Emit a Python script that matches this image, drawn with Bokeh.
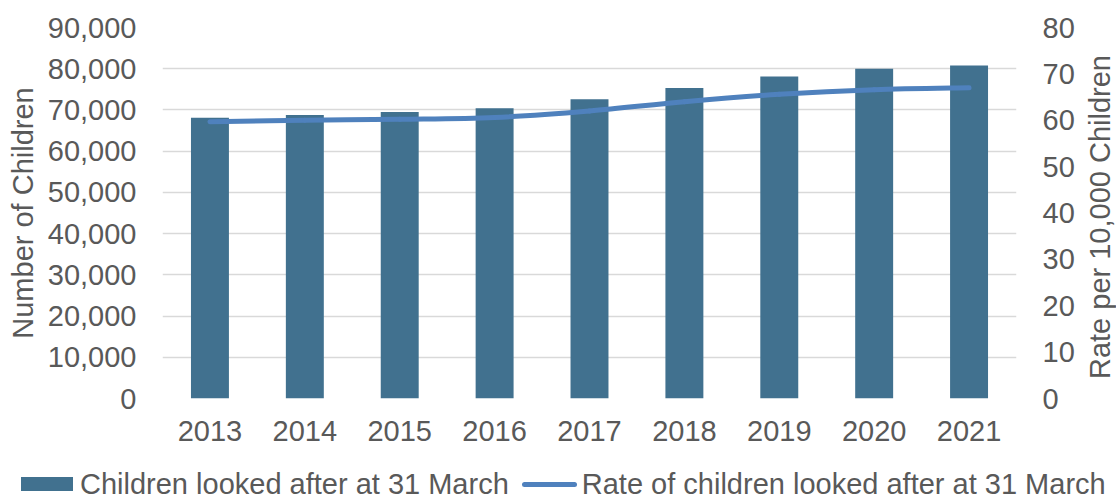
import math
from bokeh.plotting import figure
from bokeh.layouts import column, row
from bokeh.models import (Range1d, LinearAxis, FixedTicker, NumeralTickFormatter, Div)
from bokeh.core.properties import value
from bokeh.embed import file_html
from bokeh.resources import INLINE

# ---- data ----
years = ["2013", "2014", "2015", "2016", "2017", "2018", "2019", "2020", "2021"]
children = [68100, 68800, 69500, 70400, 72600, 75300, 78100, 80000, 80800]
rate = [59.7, 60.0, 60.2, 60.6, 62.0, 64.0, 65.6, 66.6, 67.0]
left_ticks = list(range(0, 90001, 10000))
right_ticks = list(range(0, 81, 10))
series_names = ["Children looked after at 31 March", "Rate of children looked after at 31 March"]
left_title = "Number of Children"
right_title = "Rate  per 10,000 Children"

FONT = "Liberation Sans"
FS = "29px"
TXT = "#595959"
BAR = "#41718f"
LINE = "#4f81bd"
GRID = "#d9d9d9"
H1 = 452

xs = list(range(len(years)))

p = figure(width=1077, height=H1, output_backend="svg", toolbar_location=None,
           x_range=Range1d(-0.5, len(years) - 0.5), y_range=Range1d(0, 90000),
           min_border_left=162, min_border_right=60, min_border_top=27,
           min_border_bottom=H1 - 398)
p.outline_line_color = None
p.background_fill_color = "white"
p.border_fill_color = "white"
p.xgrid.grid_line_color = None
p.ygrid.grid_line_color = GRID
p.ygrid.grid_line_width = 1.5

p.extra_y_ranges = {"rate": Range1d(0, 80)}

# bars
p.vbar(x=xs, top=children, bottom=0, width=0.4, fill_color=BAR, line_color=None)

# smoothed line (cubic Bezier segments through the data points)
n = len(rate)
x0, y0, x1, y1, cx0, cy0, cx1, cy1 = [], [], [], [], [], [], [], []
for i in range(n - 1):
    a = max(i - 1, 0)
    d = min(i + 2, n - 1)
    x0.append(xs[i]); y0.append(rate[i])
    x1.append(xs[i + 1]); y1.append(rate[i + 1])
    cx0.append(xs[i] + (xs[i + 1] - xs[a]) / 6.0)
    cy0.append(rate[i] + (rate[i + 1] - rate[a]) / 6.0)
    cx1.append(xs[i + 1] - (xs[d] - xs[i]) / 6.0)
    cy1.append(rate[i + 1] - (rate[d] - rate[i]) / 6.0)
p.bezier(x0=x0, y0=y0, x1=x1, y1=y1, cx0=cx0, cy0=cy0, cx1=cx1, cy1=cy1,
         y_range_name="rate", line_color=LINE, line_width=5, line_cap="round")

# axes
def style_axis(ax, standoff):
    ax.axis_line_color = None
    ax.major_tick_line_color = None
    ax.minor_tick_line_color = None
    ax.major_tick_out = 0
    ax.major_tick_in = 0
    ax.major_label_text_font = FONT
    ax.major_label_text_font_size = FS
    ax.major_label_text_color = TXT
    ax.major_label_standoff = standoff
    ax.axis_label_text_font = FONT
    ax.axis_label_text_font_size = FS
    ax.axis_label_text_color = TXT
    ax.axis_label_text_font_style = "normal"

xa = p.xaxis[0]
xa.ticker = FixedTicker(ticks=xs)
xa.major_label_overrides = {i: y for i, y in zip(xs, years)}
style_axis(xa, 22)

ya = p.yaxis[0]
ya.ticker = FixedTicker(ticks=left_ticks)
ya.formatter = NumeralTickFormatter(format="0,0")
ya.axis_label = left_title
style_axis(ya, 26)
ya.axis_label_standoff = 6

ra = LinearAxis(y_range_name="rate", ticker=FixedTicker(ticks=right_ticks))
style_axis(ra, 26)
p.add_layout(ra, "right")

# right-hand axis title (reads bottom to top, like Excel)
t = figure(width=39, height=H1, output_backend="svg", toolbar_location=None,
           x_range=Range1d(0, 39), y_range=Range1d(0, 1),
           x_axis_location=None, y_axis_location=None, min_border=0)
t.outline_line_color = None
t.grid.grid_line_color = None
t.text(x=[22], y=[0.5], text=[right_title], angle=math.pi / 2,
       text_align="center", text_baseline="middle",
       text_font=value(FONT), text_font_size=FS, text_color=TXT)

# legend strip under the chart
sw_bar = ("display:inline-block;width:52px;height:14px;background:%s;"
          "margin-left:21px;margin-right:7px;vertical-align:middle;position:relative;top:-2px" % BAR)
sw_line = ("display:inline-block;width:55px;height:5px;border-radius:3px;background:%s;"
           "margin-left:13px;margin-right:5px;vertical-align:middle;position:relative;top:-2px" % LINE)
html = ('<div style="font-family:\'%s\';font-size:%s;color:%s;white-space:nowrap;'
        'line-height:29px;padding-top:18px;margin:0">'
        '<span style="%s"></span>%s<span style="%s"></span>%s</div>'
        % (FONT, FS, TXT, sw_bar, series_names[0], sw_line, series_names[1]))
leg = Div(text=html, width=1116, height=500 - H1, margin=(0, 0, 0, 0))

layout = column(row(p, t, spacing=0), leg, spacing=0)
open("out.html", "w").write(file_html(layout, INLINE))
